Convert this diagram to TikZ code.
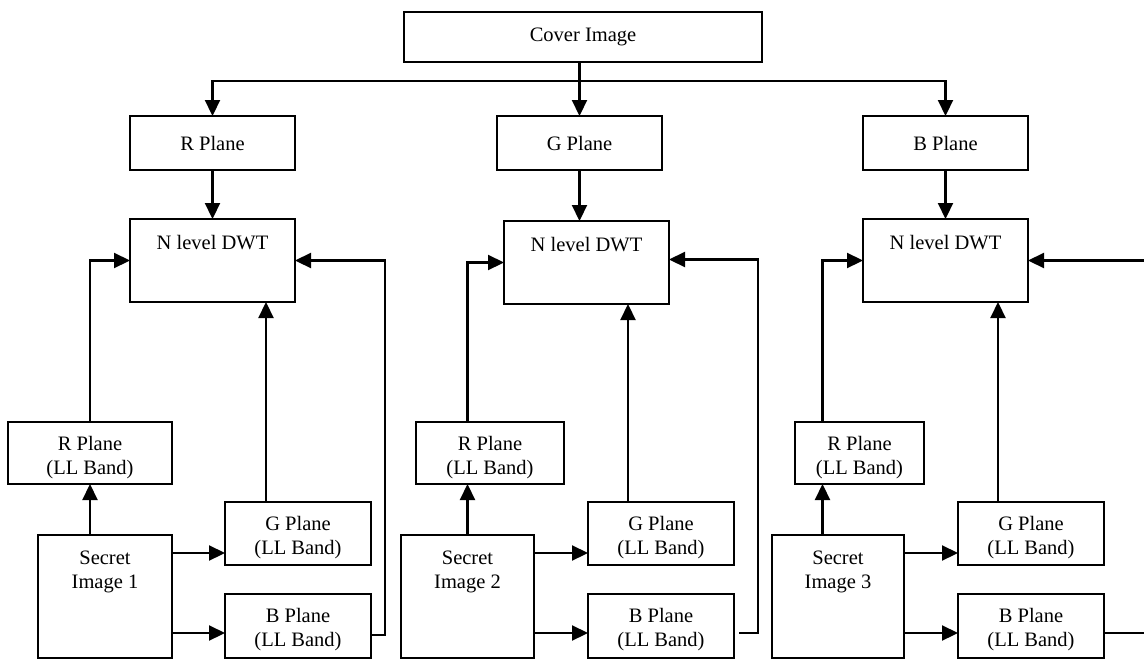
\documentclass[tikz,border=0pt]{standalone}
\usepackage{fontspec}
\setmainfont{Liberation Serif}
\usetikzlibrary{arrows.meta}
\begin{document}
\begin{tikzpicture}[x=1pt,y=-1pt,
  box/.style={draw,line width=2pt,inner sep=0pt,outer sep=0pt,anchor=north west,align=center,font=\fontsize{20.5}{24}\selectfont},
  ttopA/.style={anchor=north,inner sep=0pt,yshift=-16pt,align=center,font=\fontsize{20.5}{24}\selectfont},
  ttopB/.style={anchor=north,inner sep=0pt,yshift=-14pt,align=center,font=\fontsize{20.5}{24}\selectfont},
  arr/.style={line width=2.2pt,-{Triangle[length=16pt,width=15pt]}}]
\useasboundingbox (0,0) rectangle (1144,659);
\fill[white] (0,0) rectangle (1144,659);

% top
\node[box,minimum width=358pt,minimum height=50pt] (cover) at (404,12) {Cover Image};
\node[box,minimum width=165pt,minimum height=54pt] (rp) at (130,116) {R Plane};
\node[box,minimum width=165pt,minimum height=54pt] (gp) at (497,116) {G Plane};
\node[box,minimum width=165pt,minimum height=54pt] (bp) at (863,116) {B Plane};
\node[box,minimum width=165pt,minimum height=83pt,label={[ttopA]north:N level DWT}] (d1) at (130,219) {};
\node[box,minimum width=165pt,minimum height=83pt,label={[ttopA]north:N level DWT}] (d2) at (504,221) {};
\node[box,minimum width=165pt,minimum height=83pt,label={[ttopA]north:N level DWT}] (d3) at (863,219) {};

% set 1
\node[box,minimum width=164pt,minimum height=62pt,label={[ttopB]north:R Plane\\(LL Band)}] (r1) at (8,422) {};
\node[box,minimum width=146pt,minimum height=63pt,label={[ttopB]north:G Plane\\(LL Band)}] (g1) at (225,502) {};
\node[box,minimum width=146pt,minimum height=64pt,label={[ttopB]north:B Plane\\(LL Band)}] (b1) at (225,594) {};
\node[box,minimum width=134pt,minimum height=123pt,label={[ttopA]north:Secret\\Image 1}] (s1) at (38,535) {};

% set 2
\node[box,minimum width=148pt,minimum height=62pt,label={[ttopB]north:R Plane\\(LL Band)}] (r2) at (416,422) {};
\node[box,minimum width=146pt,minimum height=63pt,label={[ttopB]north:G Plane\\(LL Band)}] (g2) at (588,502) {};
\node[box,minimum width=146pt,minimum height=64pt,label={[ttopB]north:B Plane\\(LL Band)}] (b2) at (588,594) {};
\node[box,minimum width=133pt,minimum height=123pt,label={[ttopA]north:Secret\\Image 2}] (s2) at (401,535) {};

% set 3
\node[box,minimum width=129pt,minimum height=62pt,label={[ttopB]north:R Plane\\(LL Band)}] (r3) at (795,422) {};
\node[box,minimum width=146pt,minimum height=63pt,label={[ttopB]north:G Plane\\(LL Band)}] (g3) at (958,502) {};
\node[box,minimum width=146pt,minimum height=64pt,label={[ttopB]north:B Plane\\(LL Band)}] (b3) at (958,594) {};
\node[box,minimum width=132pt,minimum height=123pt,label={[ttopA]north:Secret\\Image 3}] (s3) at (772,535) {};

% top connectors
\coordinate (hy) at (0,81);
\coordinate (hub) at (gp.north |- hy);
\draw[arr] (cover.south -| gp.north) -- (gp.north);
\draw[arr] (hub) -| (rp.north);
\draw[arr] (hub) -| (bp.north);
\draw[arr] (rp.south) -- (d1.north);
\draw[arr] (gp.south) -- (gp.south |- d2.north);
\draw[arr] (bp.south) -- (d3.north);

% set 1 connectors
\draw[arr] (r1.north) |- (d1.west);
\draw[arr] (s1.north -| r1.north) -- (r1.south);
\draw[arr] ([yshift=-18pt]s1.north east) -- ([yshift=-18pt]s1.north east -| g1.west);
\draw[arr] ([yshift=-98pt]s1.north east) -- ([yshift=-98pt]s1.north east -| b1.west);
\draw[arr] ([xshift=-32pt]g1.north) -- ([xshift=-32pt]g1.north |- d1.south);
\draw[arr] ([yshift=-9pt]b1.east) -| ([xshift=90pt]d1.east) -- (d1.east);

% set 2 connectors
\draw[arr] (s2.north |- r2.north) |- (d2.west);
\draw[arr] (s2.north) -- (s2.north |- r2.south);
\draw[arr] ([yshift=-18pt]s2.north east) -- ([yshift=-18pt]s2.north east -| g2.west);
\draw[arr] ([yshift=-98pt]s2.north east) -- ([yshift=-98pt]s2.north east -| b2.west);
\draw[arr] ([xshift=-33pt]g2.north) -- ([xshift=-33pt]g2.north |- d2.south);
\draw[arr] ([xshift=5pt,yshift=-7pt]b2.east) -| ([xshift=89pt,yshift=3pt]d2.east) -- ([yshift=3pt]d2.east);

% set 3 connectors
\coordinate (r3x) at ([xshift=-37pt]r3.north);
\draw[arr] (r3x) |- (d3.west);
\draw[arr] (s3.north -| r3x) -- (r3x |- r3.south);
\draw[arr] ([yshift=-18pt]s3.north east) -- ([yshift=-18pt]s3.north east -| g3.west);
\draw[arr] ([yshift=-98pt]s3.north east) -- ([yshift=-98pt]s3.north east -| b3.west);
\draw[arr] ([xshift=-33pt]g3.north) -- ([xshift=-33pt]g3.north |- d3.south);
\draw[arr] ([yshift=-7pt]b3.east) -| ([xshift=118pt]d3.east) -- (d3.east);
\end{tikzpicture}
\end{document}
